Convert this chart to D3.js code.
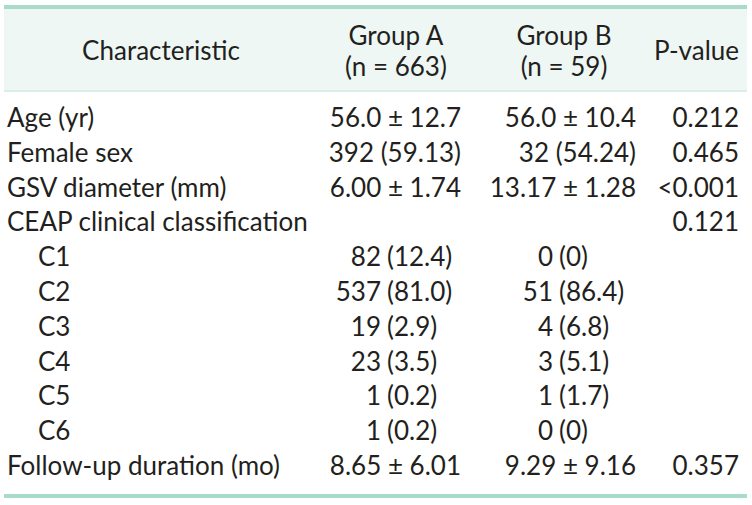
<!DOCTYPE html>
<html>
<head>
<meta charset="utf-8">
<script src="https://cdn.jsdelivr.net/npm/d3@7"></script>
<style>
  html, body { margin: 0; padding: 0; background: #ffffff; }
  svg { display: block; }
  text { font-family: Lato, "Open Sans", sans-serif; font-weight: 400; fill: #231f20; }
</style>
</head>
<body>
<script>
// ---- data ----
const headerCharacteristic = ["Characteristic"];
const headerGroupA = ["Group A", "(n = 663)"];
const headerGroupB = ["Group B", "(n = 59)"];
const headerPValue = ["P-value"];

const characteristics = [
  "Age (yr)", "Female sex", "GSV diameter (mm)", "CEAP clinical classification",
  "C1", "C2", "C3", "C4", "C5", "C6", "Follow-up duration (mo)"
];
const isSubRow = [false, false, false, false, true, true, true, true, true, true, false];
const groupA = [
  "56.0 ± 12.7", "392 (59.13)", "6.00 ± 1.74", "",
  "82 (12.4)", "537 (81.0)", "19 (2.9)", "23 (3.5)", "1 (0.2)", "1 (0.2)",
  "8.65 ± 6.01"
];
const groupB = [
  "56.0 ± 10.4", "32 (54.24)", "13.17 ± 1.28", "",
  "0 (0)", "51 (86.4)", "4 (6.8)", "3 (5.1)", "1 (1.7)", "0 (0)",
  "9.29 ± 9.16"
];
const pValues = ["0.212", "0.465", "<0.001", "0.121", "", "", "", "", "", "", "0.357"];

// ---- layout ----
const W = 752, H = 505;
const tableLeft = 4, tableRight = 747;
const mint = "#a9dbca", headBg = "#eef7f3", headLine = "#c8e7dc";

const svg = d3.select("body").append("svg").attr("width", W).attr("height", H);

// fit font size to the reference's text width
const probe = svg.append("text").attr("font-size", 100).text("CEAP clinical classification");
const probeW = probe.node().getComputedTextLength();
probe.remove();
const fs = Math.max(18, Math.min(26, 100 * 312 / probeW));

// header background and rules
svg.append("rect").attr("x", tableLeft).attr("y", 9).attr("width", tableRight - tableLeft).attr("height", 82).attr("fill", headBg);
svg.append("rect").attr("x", tableLeft).attr("y", 5).attr("width", tableRight - tableLeft).attr("height", 4).attr("fill", mint);
svg.append("rect").attr("x", tableLeft).attr("y", 90.5).attr("width", tableRight - tableLeft).attr("height", 1.2).attr("fill", headLine);

// row scale
const rowIdx = d3.range(characteristics.length);
const y = d3.scalePoint().domain(rowIdx).range([127, 475]);

svg.append("rect").attr("x", tableLeft).attr("y", 494).attr("width", tableRight - tableLeft).attr("height", 4).attr("fill", mint);

// column positions
const col = {
  label: 7, indent: 38,
  aCenter: 396, aRight: 461, aSplit: 381,
  bCenter: 564, bRight: 636, bSplit: 553,
  pCenter: 697, pRight: 739
};

// header text
const hg = svg.append("g").attr("font-size", fs);
hg.append("text").attr("x", 161).attr("y", 60).attr("text-anchor", "middle").text(headerCharacteristic[0]);
hg.selectAll(".ha").data(headerGroupA).join("text")
  .attr("x", col.aCenter).attr("y", (d, i) => 45 + i * 31).attr("text-anchor", "middle").text(d => d);
hg.selectAll(".hb").data(headerGroupB).join("text")
  .attr("x", col.bCenter).attr("y", (d, i) => 45 + i * 31).attr("text-anchor", "middle").text(d => d);
hg.append("text").attr("x", col.pRight).attr("y", 60).attr("text-anchor", "end").text(headerPValue[0]);

// body
const bg = svg.append("g").attr("font-size", fs);
bg.selectAll(".lab").data(rowIdx).join("text")
  .attr("x", i => isSubRow[i] ? col.indent : col.label)
  .attr("y", i => y(i)).text(i => characteristics[i]);

function drawGroup(values, right, split) {
  rowIdx.forEach(i => {
    const v = values[i];
    if (!v) return;
    if (isSubRow[i]) {
      const k = v.indexOf(" ");
      bg.append("text").attr("x", split).attr("y", y(i)).attr("text-anchor", "end").text(v.slice(0, k));
      bg.append("text").attr("x", split + 6).attr("y", y(i)).attr("text-anchor", "start").text(v.slice(k + 1));
    } else {
      bg.append("text").attr("x", right).attr("y", y(i)).attr("text-anchor", "end").text(v);
    }
  });
}
drawGroup(groupA, col.aRight, col.aSplit);
drawGroup(groupB, col.bRight, col.bSplit);

bg.selectAll(".pv").data(rowIdx.filter(i => pValues[i])).join("text")
  .attr("x", col.pRight).attr("y", i => y(i)).attr("text-anchor", "end").text(i => pValues[i]);
</script>
</body>
</html>
